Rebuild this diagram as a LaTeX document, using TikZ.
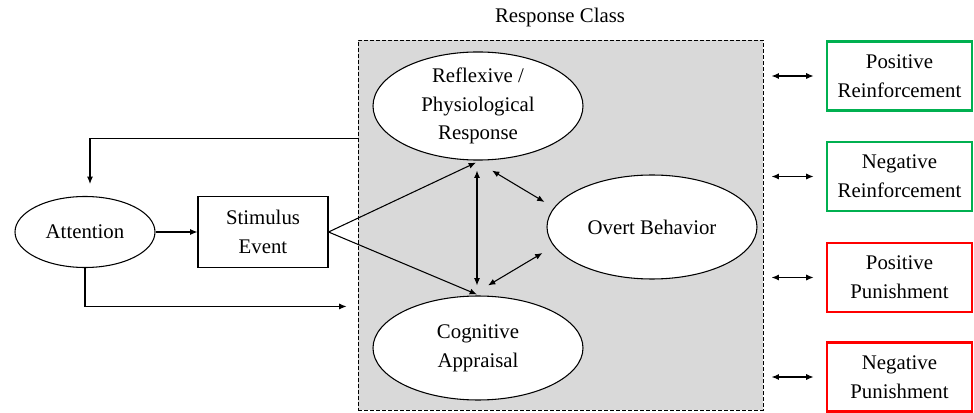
\documentclass[tikz,border=0pt]{standalone}
\usepackage{fontspec}
\setmainfont{Liberation Serif}
\usetikzlibrary{shapes.geometric,arrows.meta,calc}
\definecolor{okgreen}{RGB}{0,176,80}
\definecolor{badred}{RGB}{255,0,0}
\definecolor{panel}{RGB}{217,217,217}
\begin{document}
\begin{tikzpicture}[x=0.75pt,y=-0.75pt,
  every node/.style={font=\fontsize{15.6pt}{21.5pt}\selectfont, align=center},
  oval/.style={ellipse, draw, fill=white, line width=0.8pt, inner sep=0pt,
               minimum width=157.5pt, minimum height=78pt},
  plainbox/.style={rectangle, draw, fill=white, line width=0.8pt, inner sep=0pt,
               minimum width=97.5pt, minimum height=53.25pt},
  conbox/.style={rectangle, draw, fill=white, line width=1.9pt, inner sep=0pt,
               minimum width=109pt, minimum height=52pt},
  arr/.style={line width=0.8pt, -{Latex[length=5.5pt,width=4.5pt]}},
  darr/.style={line width=0.8pt, {Latex[length=5.5pt,width=4.5pt]}-{Latex[length=5.5pt,width=4.5pt]}}]
\useasboundingbox (0,0) rectangle (974,413);

% response class panel
\node[draw, dash pattern=on 3pt off 1.5pt, fill=panel, line width=0.7pt,
      minimum width=303.75pt, minimum height=277.5pt, inner sep=0pt] (rc) at (560.5,225) {};
\node (rctitle) at (560,18) {Response Class};

% nodes inside the panel
\node[oval] (refl) at (478,106) {Reflexive /\\Physiological\\Response};
\node[oval] (overt) at (652,227) {Overt Behavior};
\node[oval] (cog) at (478,348) {Cognitive\\Appraisal};

% left side
\node[oval, minimum width=105pt, minimum height=53.25pt] (att) at (85,232) {Attention};
\node[plainbox] (stim) at (263,232) {Stimulus\\Event};

% consequences
\node[conbox, draw=okgreen] (pr) at (899.5,76) {Positive\\Reinforcement};
\node[conbox, draw=okgreen] (nr) at (899.5,176.5) {Negative\\Reinforcement};
\node[conbox, draw=badred] (pp) at (899.5,277.5) {Positive\\Punishment};
\node[conbox, draw=badred] (np) at (899.5,377) {Negative\\Punishment};

% connectors
\draw[arr] (att) -- (stim);
\draw[arr] (stim.east) -- ($(refl.south)+(-2,2)$);
\draw[arr] (stim.east) -- ($(cog.north)+(-1,-1)$);
\draw[darr] ($(refl.south)+(-1,10)$) -- ($(cog.north)+(-1,-10)$);
\draw[darr] ($(refl.south)+(14,10)$) -- ($(overt.west)+(-2,-25)$);
\draw[darr] ($(cog.north)+(10,-10)$) -- ($(overt.west)+(-4,26)$);

% feedback to attention and attention into the response class
\draw[arr] ($(rc.north west)+(0,99)$) -| ($(att.north)+(5,-12)$);
\draw[arr] (att.south) |- ($(rc.south west)+(-11,-104)$);

% links between the panel and the consequences
\foreach \b in {pr,nr,pp,np}
  \draw[darr] ($(\b.west)+(-54,0)$) -- ($(\b.west)+(-12,0)$);
\end{tikzpicture}
\end{document}
